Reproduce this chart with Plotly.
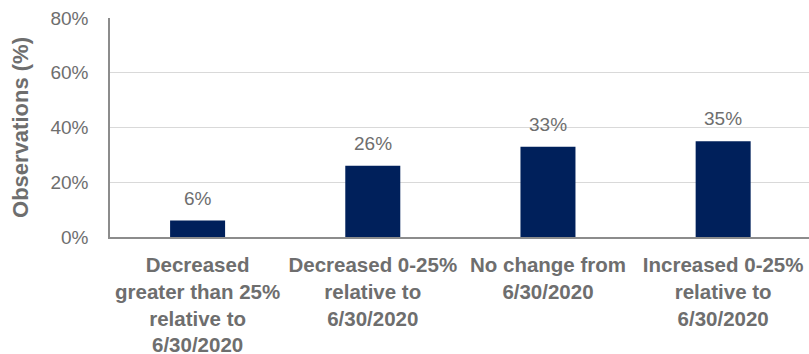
import plotly.graph_objects as go

# Share of observations by change relative to 6/30/2020
categories = [
    "Decreased<br>greater than 25%<br>relative to<br>6/30/2020",
    "Decreased 0-25%<br>relative to<br>6/30/2020",
    "No change from<br>6/30/2020",
    "Increased 0-25%<br>relative to<br>6/30/2020",
]
observations_pct = [6, 26, 33, 35]
y_ticks = [0, 20, 40, 60, 80]

BAR_COLOR = "#00205B"
TEXT_GRAY = "#6E6E6E"
FONT = "Liberation Sans, Arial, sans-serif"

fig = go.Figure(
    go.Bar(
        x=list(range(len(categories))),
        y=observations_pct,
        marker=dict(color=BAR_COLOR, line=dict(width=0)),
        hoverinfo="skip",
    )
)

# value labels above each bar
for i, v in enumerate(observations_pct):
    fig.add_annotation(
        x=i, y=v, text=f"{v}%", showarrow=False,
        yanchor="bottom", yshift=10,
        font=dict(family=FONT, size=19, color=TEXT_GRAY),
    )

fig.update_layout(
    width=809, height=354,
    margin=dict(l=110, r=0, t=18, b=117),
    paper_bgcolor="white", plot_bgcolor="white",
    bargap=0.686,
    showlegend=False,
    font=dict(family=FONT, color=TEXT_GRAY),
    xaxis=dict(
        tickmode="array",
        tickvals=list(range(len(categories))),
        ticktext=categories,
        range=[-0.5, 3.49],
        automargin=False,
        showgrid=False, zeroline=False,
        showline=True, linecolor="#8C8C8C", linewidth=1.5,
        ticks="", ticklabelstandoff=9,
        tickfont=dict(family=FONT, size=20.5, color=TEXT_GRAY, weight="bold"),
        tickangle=0,
    ),
    yaxis=dict(
        range=[0, 80],
        automargin=False,
        tickmode="array",
        tickvals=y_ticks,
        ticktext=[f"{t}%" for t in y_ticks],
        showgrid=True, gridcolor="#D9D9D9", gridwidth=1,
        zeroline=False,
        showline=True, linecolor="#8C8C8C", linewidth=1.5,
        ticks="", ticklabelstandoff=16,
        tickfont=dict(family=FONT, size=19, color=TEXT_GRAY),
        title=dict(
            text="Observations (%)", standoff=16,
            font=dict(family=FONT, size=22, color=TEXT_GRAY, weight="bold"),
        ),
    ),
)

fig.write_html("out.html")
